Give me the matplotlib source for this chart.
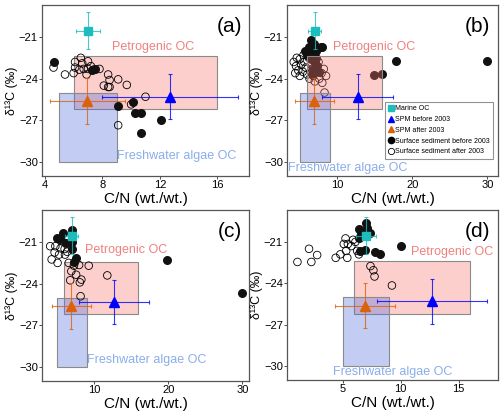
"""
C/N vs d13C scatter for four sampling areas, with end-member boxes.
"""

import matplotlib.pyplot as plt
from matplotlib.patches import Rectangle
from matplotlib.lines import Line2D

plt.rcParams["font.family"] = ["Liberation Sans", "DejaVu Sans"]

# end-members (mean, x err, y err)
marine = (7.0, -20.55, 0.85, 1.32)
spm_before = (12.7, -25.3, 4.75, 1.6)
spm_after = (6.95, -25.6, 2.6, 1.65)

# source boxes: x0, x1, y0, y1
petro_box = (6, 16, -26.2, -22.4)
fresh_box = (5, 9, -30, -25)

# panel (a)
a_before_x = [4.6, 7.5, 7.3, 10.1, 9.1, 10.3, 10.7, 10.7, 12.1]
a_before_y = [-22.8, -23.3, -23.4, -25.65, -26.0, -26.5, -26.5, -27.9, -27.0]
a_after_x = [4.6, 5.4, 6.0, 6.1, 6.1, 6.5, 6.6, 6.7, 7.0, 6.9, 7.0, 6.4, 7.2,
             7.4, 7.8, 8.4, 8.5, 8.1, 8.4, 8.5, 9.1, 9.7, 11.0, 10.0, 9.1]
a_after_y = [-23.2, -23.7, -23.6, -23.2, -22.8, -22.5, -22.9, -23.3, -22.75,
             -23.7, -23.3, -23.35, -23.1, -23.35, -23.3, -23.7, -24.1, -24.5,
             -24.6, -24.6, -24.05, -24.45, -25.3, -25.85, -27.35]

# panel (b)
b_before_x = [6.5, 6.2, 6.9, 7.8, 5.7, 7.1, 6.5, 6.0, 7.9, 6.5, 7.0, 6.8, 7.3,
              6.6, 7.5, 7.2, 17.8, 30.0, 14.9, 15.9]
b_before_y = [-21.2, -21.7, -21.5, -21.75, -22.0, -22.0, -22.1, -22.3, -21.75,
              -22.6, -22.9, -23.3, -23.1, -23.7, -23.5, -22.5, -22.75, -22.75,
              -23.75, -23.65]
b_after_x = [4.2, 4.5, 4.8, 5.0, 5.2, 5.4, 5.6, 4.6, 5.0, 5.8, 6.0, 6.3, 6.6,
             6.8, 7.0, 7.3, 7.6, 7.9, 8.2, 8.5, 8.0, 7.5, 6.2, 5.5, 8.3, 6.8,
             7.2, 4.4]
b_after_y = [-22.8, -23.1, -23.4, -22.6, -23.0, -23.5, -22.8, -22.5, -23.8,
             -23.2, -23.7, -24.0, -23.3, -23.8, -24.2, -23.5, -24.0, -23.6,
             -23.3, -23.8, -24.3, -22.8, -22.5, -22.3, -25.0, -22.6, -23.0,
             -23.6]

# panel (c)
c_before_x = [5.8, 7.0, 5.4, 7.0, 7.6, 7.3, 7.1, 5.0, 6.2, 19.9, 30.0]
c_before_y = [-20.35, -20.1, -20.8, -21.0, -22.15, -22.45, -21.5, -20.7, -21.1,
              -22.3, -24.7]
c_after_x = [4.1, 4.8, 5.5, 6.05, 4.7, 5.3, 6.1, 4.3, 5.1, 6.6, 8.0, 9.3, 6.95,
             7.6, 8.3, 6.8, 8.1, 11.8, 5.7, 6.4, 8.2, 7.3]
c_after_y = [-21.3, -21.3, -21.45, -21.5, -21.75, -21.9, -21.9, -22.25, -22.5,
             -22.5, -22.65, -22.7, -23.1, -23.35, -23.7, -23.75, -23.9, -23.4,
             -20.95, -21.7, -24.9, -22.7]

# panel (d)
d_before_x = [6.4, 7.1, 6.4, 6.9, 6.6, 6.5, 6.9, 7.75, 8.2, 7.05, 7.4, 10.0]
d_before_y = [-20.05, -20.0, -20.75, -20.5, -20.35, -21.65, -21.55, -21.7,
              -21.9, -19.65, -20.35, -21.3]
d_after_x = [1.1, 2.1, 2.3, 2.8, 4.4, 4.8, 5.3, 5.25, 5.45, 5.75, 6.1, 6.25,
             5.4, 6.4, 5.9, 7.4, 7.65, 7.75, 5.1, 9.25]
d_after_y = [-22.45, -21.5, -22.45, -21.95, -22.15, -21.9, -21.65, -20.75,
             -21.15, -21.3, -21.0, -21.65, -22.15, -21.9, -20.85, -22.75,
             -23.05, -23.5, -21.15, -24.15]

panels = [
    dict(tag="(a)", xlim=(3.8, 18.2), xticks=[4, 8, 12, 16],
         before=(a_before_x, a_before_y), after=(a_after_x, a_after_y),
         petro_xy=(11.5, -21.75), fresh_xy=(13.2, -29.55), box_top=False),
    dict(tag="(b)", xlim=(3.3, 31.4), xticks=[10, 20, 30],
         before=(b_before_x, b_before_y), after=(b_after_x, b_after_y),
         petro_xy=(14.9, -21.75), fresh_xy=(11.4, -30.4), box_top=True),
    dict(tag="(c)", xlim=(3.0, 30.9), xticks=[10, 20, 30],
         before=(c_before_x, c_before_y), after=(c_after_x, c_after_y),
         petro_xy=(14.4, -21.6), fresh_xy=(17.1, -29.5), box_top=False),
    dict(tag="(d)", xlim=(0.2, 18.4), xticks=[5, 10, 15],
         before=(d_before_x, d_before_y), after=(d_after_x, d_after_y),
         petro_xy=(14.4, -21.75), fresh_xy=(9.3, -30.4), box_top=False),
]

positions = [
    [0.084, 0.577, 0.414, 0.411],
    [0.574, 0.577, 0.422, 0.411],
    [0.084, 0.084, 0.414, 0.411],
    [0.574, 0.086, 0.422, 0.409],
]

CYAN = "#1DBDBD"
BLUE = "#0000FF"
ORANGE = "#D9620B"
PINK = "#F8766D"
PERI = "#5470E0"

fig = plt.figure(figsize=(5.0, 4.16), dpi=100)

for p, pos in zip(panels, positions):
    ax = fig.add_axes(pos)
    box_z = 3 if p["box_top"] else 1

    x0, x1, y0, y1 = petro_box
    ax.add_patch(Rectangle((x0, y0), x1 - x0, y1 - y0, facecolor=PINK, alpha=0.35,
                           edgecolor="none", zorder=box_z))
    ax.add_patch(Rectangle((x0, y0), x1 - x0, y1 - y0, facecolor="none",
                           edgecolor="#8a8a8a", linewidth=0.8, zorder=box_z))
    x0, x1, y0, y1 = fresh_box
    ax.add_patch(Rectangle((x0, y0), x1 - x0, y1 - y0, facecolor=PERI, alpha=0.35,
                           edgecolor="none", zorder=box_z))
    ax.add_patch(Rectangle((x0, y0), x1 - x0, y1 - y0, facecolor="none",
                           edgecolor="#8a8a8a", linewidth=0.8, zorder=box_z))

    bx, by = p["before"]
    ox, oy = p["after"]
    ax.scatter(ox, oy, s=30, facecolors="none", edgecolors="black",
               linewidths=0.6, zorder=2)
    ax.scatter(bx, by, s=30, color="#111111", edgecolors="#111111", zorder=2)

    for (mx, my, ex, ey), col, mk, ms in [
        (marine, CYAN, "s", 6),
        (spm_before, BLUE, "^", 7),
        (spm_after, ORANGE, "^", 7),
    ]:
        ax.errorbar(mx, my, xerr=ex, yerr=ey, fmt="none", ecolor=col,
                    elinewidth=0.8, capsize=1.5, capthick=0.8, alpha=0.8, zorder=4)
        ax.plot(mx, my, marker=mk, color=col, markersize=ms, linestyle="none", zorder=5)

    ax.text(*p["petro_xy"], "Petrogenic OC", color="#F08080", fontsize=9,
            ha="center", va="center", zorder=6)
    ax.text(*p["fresh_xy"], "Freshwater algae OC", color="#8AAEEA", fontsize=9,
            ha="center", va="center", zorder=6)
    ax.text(0.965, 0.93, p["tag"], transform=ax.transAxes, fontsize=15,
            ha="right", va="top", zorder=6)

    ax.set_xlim(*p["xlim"])
    ax.set_ylim(-31.0, -18.7)
    ax.set_xticks(p["xticks"])
    ax.set_yticks([-21, -24, -27, -30])
    ax.tick_params(labelsize=8, length=2, width=0.6, color="#333333", pad=1)
    for s in ax.spines.values():
        s.set_color("#555555")
        s.set_linewidth(0.9)
    ax.set_xlabel("C/N (wt./wt.)", fontsize=11, labelpad=1)
    ax.set_ylabel("δ¹³C (‰)", fontsize=9)
    ax.yaxis.set_label_coords(-24.0 / (pos[2] * 500), 0.5)

    if p["tag"] == "(b)":
        handles = [
            Line2D([], [], marker="s", color=CYAN, linestyle="none", markersize=4),
            Line2D([], [], marker="^", color=BLUE, linestyle="none", markersize=4.5),
            Line2D([], [], marker="^", color=ORANGE, linestyle="none", markersize=4.5),
            Line2D([], [], marker="o", color="black", linestyle="none", markersize=4.5),
            Line2D([], [], marker="o", markerfacecolor="none", markeredgecolor="black",
                   markeredgewidth=0.6, linestyle="none", markersize=4.5),
        ]
        labels = ["Marine OC", "SPM before 2003", "SPM after 2003",
                  "Surface sediment before 2003", "Surface sediment after 2003"]
        leg = ax.legend(handles, labels, loc="lower right",
                        bbox_to_anchor=(0.975, 0.1), fontsize=5, frameon=True,
                        fancybox=False, handlelength=0.6, handletextpad=0.2,
                        borderpad=0.5, labelspacing=0.55, borderaxespad=0)
        leg.get_frame().set_edgecolor("#777777")
        leg.get_frame().set_linewidth(0.8)
        leg.set_zorder(7)

fig.savefig("out.png", dpi=100)
